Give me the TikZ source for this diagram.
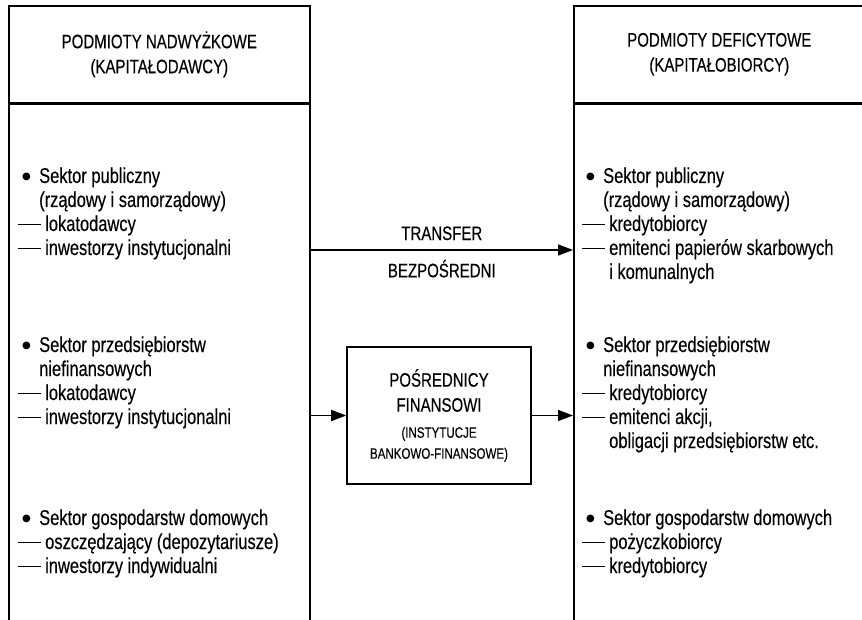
\documentclass[tikz,border=0pt]{standalone}
\usepackage{fontspec}
\setmainfont{Liberation Sans}[FakeStretch=0.77,FakeBold=0.3]
\newfontfamily\symfont{DejaVu Sans}
\usetikzlibrary{arrows.meta,positioning}

\newcommand{\bul}{\makebox[21pt][l]{\hspace{4pt}{\symfont\fontsize{10}{10}\selectfont\raisebox{3.6pt}{●}}}}
\newcommand{\dsh}{\rule[0.27em]{23pt}{1.2pt}\hspace{4pt}}
\newcommand{\padbul}{\hspace*{21pt}}
\newcommand{\paddsh}{\hspace*{27pt}}

\begin{document}
\begin{tikzpicture}[x=1pt,y=-1pt,
        box/.style={draw,line width=1.6pt,inner sep=0pt},
        caps/.style={font=\fontsize{19.5}{25}\selectfont,align=center},
        items/.style={font=\fontsize{21.4}{24}\selectfont,align=left,anchor=base west,inner sep=0pt},
        arr/.style={line width=1.6pt,-{Triangle[length=15pt,width=11pt]}}]
    \useasboundingbox (0,0) rectangle (862,620);
    \clip (0,0) rectangle (862,620);

    % surplus side
    \node[box,caps,anchor=north west,minimum width=301pt,minimum height=97pt] (lhead) at (8,5) {PODMIOTY NADWYŻKOWE\\(KAPITAŁODAWCY)};
    \node[box,anchor=north west,minimum width=301pt,minimum height=540pt] (lbody) at (lhead.south west) {};

    % deficit side
    \node[box,caps,anchor=north west,minimum width=291pt,minimum height=97pt] (rhead) at (573,5) {PODMIOTY DEFICYTOWE\\(KAPITAŁOBIORCY)};
    \node[box,anchor=north west,minimum width=291pt,minimum height=540pt] (rbody) at (rhead.south west) {};

    % intermediaries
    \node[box,caps,minimum width=184pt,minimum height=137pt] (fin) at (439,415.5) {POŚREDNICY\\FINANSOWI\\[1pt]\fontsize{15}{20}\selectfont (INSTYTUCJE\\[-4pt]\fontsize{15}{20}\selectfont BANKOWO-FINANSOWE)};

    % base = last line, so the y values are the last baselines
    \node[items] (lpub) at (18,255) {\bul Sektor publiczny\\\padbul(rządowy i samorządowy)\\\dsh lokatodawcy\\\dsh inwestorzy instytucjonalni};
    \node[items] (lent) at (18,424) {\bul Sektor przedsiębiorstw\\\padbul niefinansowych\\\dsh lokatodawcy\\\dsh inwestorzy instytucjonalni};
    \node[items] (lhome) at (18,573) {\bul Sektor gospodarstw domowych\\\dsh oszczędzający (depozytariusze)\\\dsh inwestorzy indywidualni};

    \node[items] (rpub) at (582,279) {\bul Sektor publiczny\\\padbul(rządowy i samorządowy)\\\dsh kredytobiorcy\\\dsh emitenci papierów skarbowych\\\paddsh i komunalnych};
    \node[items] (rent) at (582,448) {\bul Sektor przedsiębiorstw\\\padbul niefinansowych\\\dsh kredytobiorcy\\\dsh emitenci akcji,\\\paddsh obligacji przedsiębiorstw etc.};
    \node[items] (rhome) at (582,573) {\bul Sektor gospodarstw domowych\\\dsh pożyczkobiorcy\\\dsh kredytobiorcy};

    % flows
    \coordinate (trans) at (440,250);
    \draw[arr] (lbody.east |- trans) -- (rbody.west |- trans)
        node[midway,above=9pt,caps,inner sep=0pt] {TRANSFER}
        node[midway,below=9pt,caps,inner sep=0pt] {BEZPOŚREDNI};
    \draw[arr] (lbody.east |- fin.west) -- (fin.west);
    \draw[arr] (fin.east) -- (rbody.west |- fin.east);
\end{tikzpicture}
\end{document}
